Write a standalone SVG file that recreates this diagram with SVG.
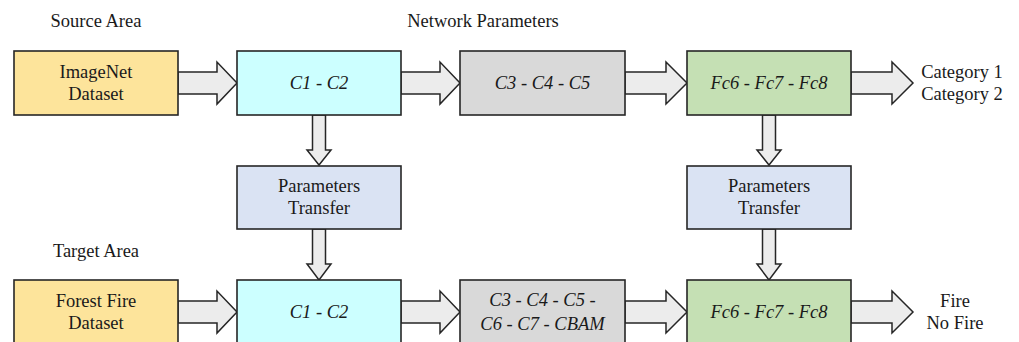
<svg xmlns="http://www.w3.org/2000/svg" width="1019" height="342" viewBox="0 0 1019 342" font-family="'Liberation Serif', 'DejaVu Serif', serif">
<style>
.box{stroke:#262626;stroke-width:1.6}
.arr{fill:#ececec;stroke:#262626;stroke-width:1.5;stroke-linejoin:miter}
.t{font-family:'Liberation Serif','DejaVu Serif',serif;font-size:18.5px;fill:#1a1a1a}
.c{text-anchor:middle}
.i{font-style:italic}
.yel{fill:#fde49b}.cyan{fill:#ccffff}.gray{fill:#d9d9d9}.grn{fill:#c5e0b4}.blu{fill:#dae3f3}
</style>
<rect width="1019" height="342" fill="#ffffff"/>
<text x="96" y="27" class="t c">Source Area</text>
<text x="483" y="27" class="t c">Network Parameters</text>
<text x="96" y="257" class="t c">Target Area</text>
<g id="connectors">
<path class="arr" d="M178,72 H217 V62 L237,83 L217,104 V94 H178 Z"/>
<path class="arr" d="M401,72 H440 V62 L460,83 L440,104 V94 H401 Z"/>
<path class="arr" d="M625,72 H666 V62 L687,83 L666,104 V94 H625 Z"/>
<path class="arr" d="M851,72 H892 V62 L913,83 L892,104 V94 H851 Z"/>
<path class="arr" d="M178,301 H217 V291 L237,312 L217,333 V323 H178 Z"/>
<path class="arr" d="M401,301 H440 V291 L460,312 L440,333 V323 H401 Z"/>
<path class="arr" d="M625,301 H666 V291 L687,312 L666,333 V323 H625 Z"/>
<path class="arr" d="M851,301 H892 V291 L913,312 L892,333 V323 H851 Z"/>
<path class="arr" d="M312.5,115 V150 H307 L319,165 L331,150 H325.5 V115 Z"/>
<path class="arr" d="M312.5,229 V264 H307 L319,280 L331,264 H325.5 V229 Z"/>
<path class="arr" d="M762.5,115 V150 H757 L769,165 L781,150 H775.5 V115 Z"/>
<path class="arr" d="M762.5,229 V264 H757 L769,280 L781,264 H775.5 V229 Z"/>
</g>
<g id="imagenet"><rect class="box yel" x="14" y="51" width="164" height="64"/><text x="96" y="78" class="t c">ImageNet</text><text x="96" y="100" class="t c">Dataset</text></g>
<g id="c1c2-top"><rect class="box cyan" x="237" y="51" width="164" height="64"/><text x="319" y="89" class="t c i">C1 - C2</text></g>
<g id="c3c5-top"><rect class="box gray" x="460" y="51" width="165" height="64"/><text x="542.5" y="89" class="t c i">C3 - C4 - C5</text></g>
<g id="fc-top"><rect class="box grn" x="687" y="51" width="164" height="64"/><text x="769" y="89" class="t c i">Fc6 - Fc7 - Fc8</text></g>
<g id="out-top"><text x="962" y="78" class="t c">Category 1</text><text x="962" y="100" class="t c">Category 2</text></g>
<g id="pt-left"><rect class="box blu" x="237" y="166" width="164" height="63"/><text x="319" y="192" class="t c">Parameters</text><text x="319" y="214" class="t c">Transfer</text></g>
<g id="pt-right"><rect class="box blu" x="687" y="166" width="164" height="63"/><text x="769" y="192" class="t c">Parameters</text><text x="769" y="214" class="t c">Transfer</text></g>
<g id="forest"><rect class="box yel" x="14" y="280" width="164" height="64"/><text x="96" y="307" class="t c">Forest Fire</text><text x="96" y="329" class="t c">Dataset</text></g>
<g id="c1c2-bot"><rect class="box cyan" x="237" y="280" width="164" height="64"/><text x="319" y="318" class="t c i">C1 - C2</text></g>
<g id="c3cbam-bot"><rect class="box gray" x="460" y="280" width="165" height="64"/><text x="542.5" y="306" class="t c i">C3 - C4 - C5 -</text><text x="542.5" y="330" class="t c i">C6 - C7 - CBAM</text></g>
<g id="fc-bot"><rect class="box grn" x="687" y="280" width="164" height="64"/><text x="769" y="318" class="t c i">Fc6 - Fc7 - Fc8</text></g>
<g id="out-bot"><text x="955" y="307" class="t c">Fire</text><text x="955" y="329" class="t c">No Fire</text></g>
</svg>
